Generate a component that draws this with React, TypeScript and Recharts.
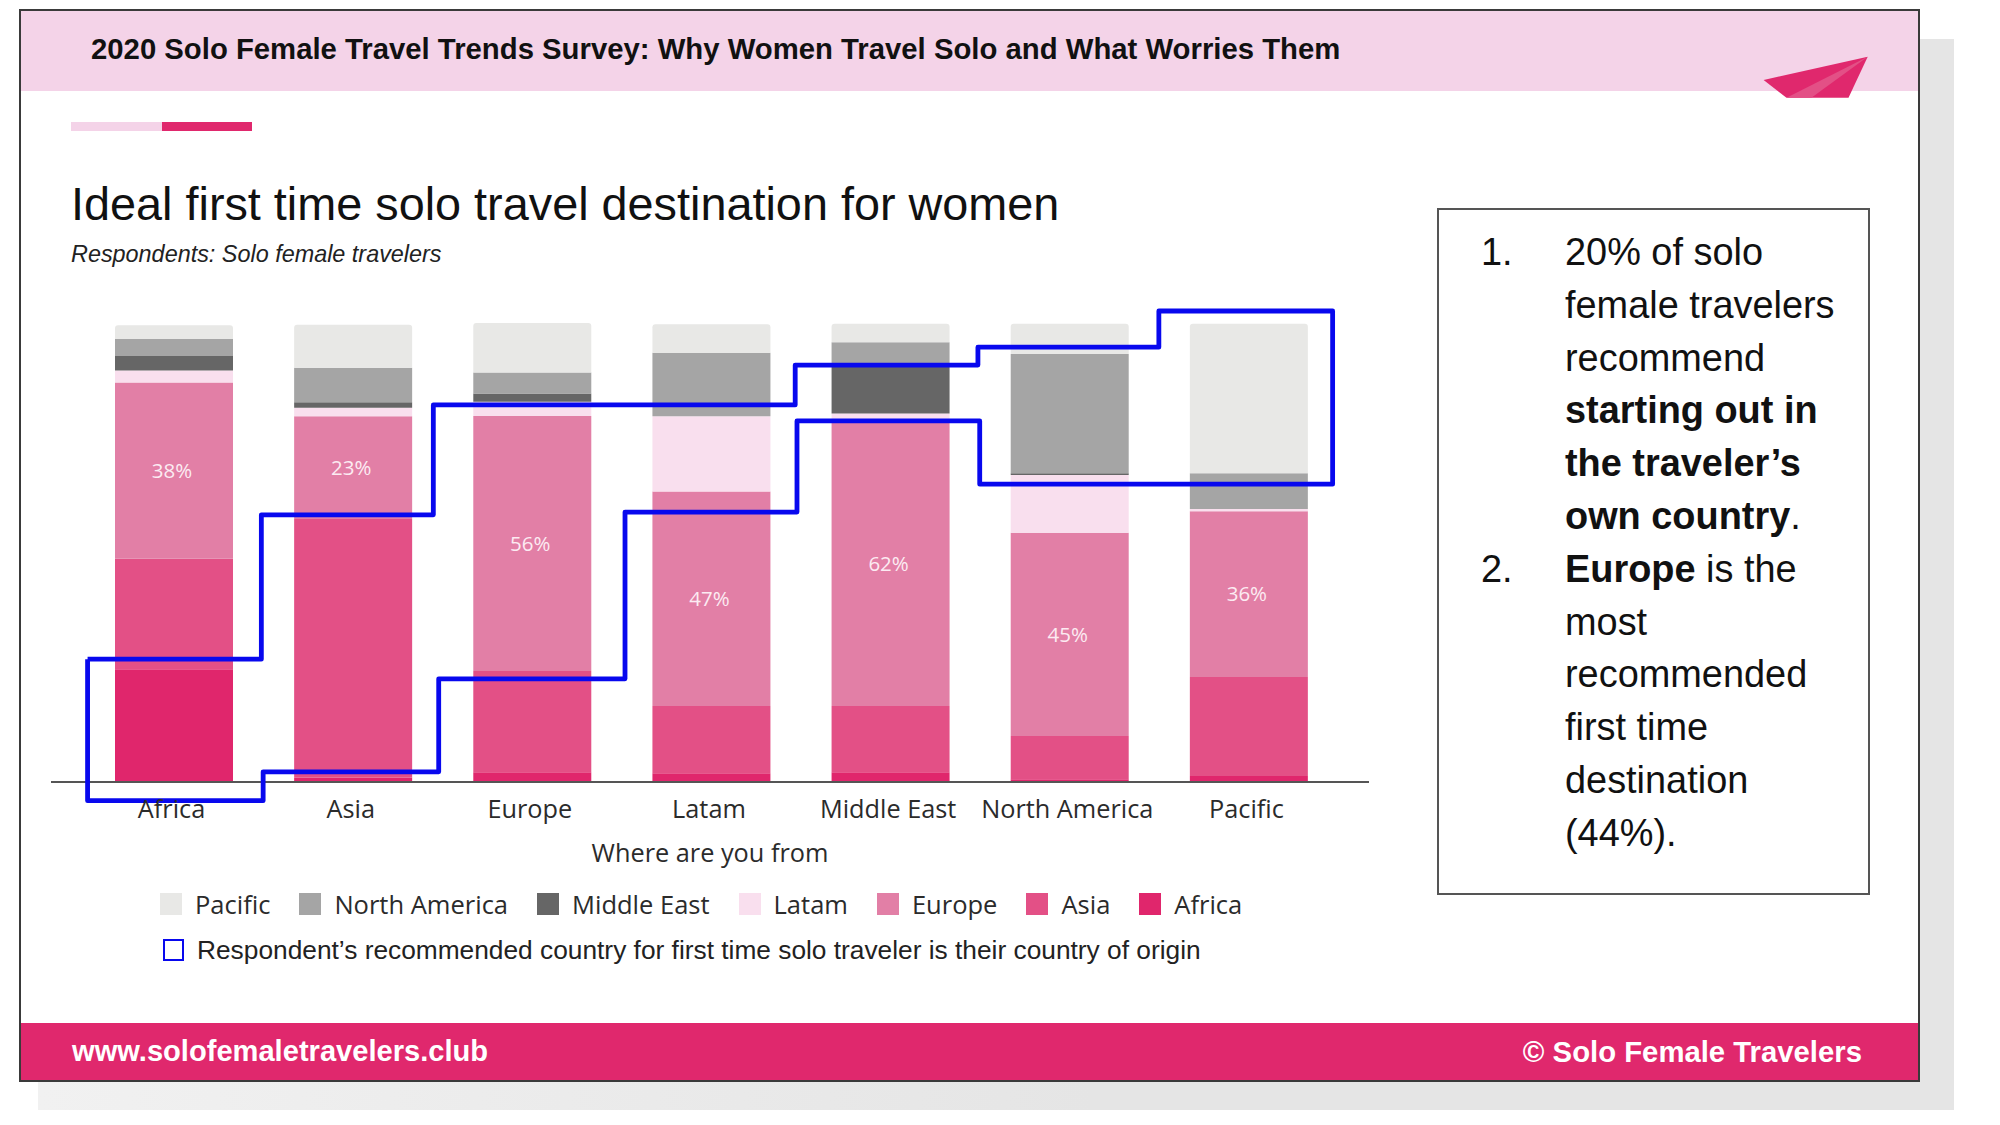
import {
  ComposedChart,
  Bar,
  Scatter,
  XAxis,
  YAxis,
  LabelList,
  Legend,
  ReferenceLine,
} from "recharts";

const regions = ["Africa", "Asia", "Europe", "Latam", "Middle East", "North America", "Pacific"];
const africa = [24.6, 0.9, 2.1, 1.9, 2.1, 0.6, 1.3];
const asia = [24.1, 56.5, 22.1, 14.7, 14.5, 9.4, 21.6];
const europe = [38.5, 22.4, 55.7, 46.8, 62.1, 44.4, 36.2];
const latam = [2.6, 1.9, 3.1, 16.4, 1.7, 12.6, 0.5];
const middleEast = [3.2, 1.2, 1.8, 0, 10.4, 0.4, 0];
const northAmerica = [3.7, 7.5, 4.6, 13.9, 5.2, 26, 7.8];
const pacific = [3.0, 9.4, 10.8, 6.2, 4.0, 6.6, 32.6];
const europeLabels = [38, 23, 56, 47, 62, 45, 36];

// outline round the "own country" cells: x in category bands, y in percent
const outlineX = [0.02, 0.02, 1, 1, 1.98, 1.98, 3.02, 3.02, 3.98, 3.98, 5, 5, 6.97, 6.97, 6, 6, 4.99, 4.99, 3.97, 3.97, 1.95, 1.95, 0.99, 0.99, 0.02];
const outlineY = [26.8, -4.1, -4.1, 2.2, 2.2, 22.5, 22.5, 58.9, 58.9, 78.8, 78.8, 65, 65, 102.8, 102.8, 94.9, 94.9, 91, 91, 82.3, 82.3, 58.3, 58.3, 26.8, 26.8];

const COLORS = {
  Africa: "#E0266C",
  Asia: "#E35086",
  Europe: "#E27FA6",
  Latam: "#F9DFEE",
  "Middle East": "#666666",
  "North America": "#A5A5A5",
  Pacific: "#E8E8E6",
};
const legendOrder = ["Pacific", "North America", "Middle East", "Latam", "Europe", "Asia", "Africa"];
const BLUE = "#0808EE";
const SANS = "'Liberation Sans', Arial, sans-serif";
const LABEL_FONT = "'Open Sans', sans-serif";

const chartData = regions.map((region, i) => ({
  region,
  Africa: africa[i],
  Asia: asia[i],
  Europe: europe[i],
  Latam: latam[i],
  "Middle East": middleEast[i],
  "North America": northAmerica[i],
  Pacific: pacific[i],
  europeLabel: europeLabels[i],
}));
const outlineData = outlineX.map((x, i) => ({ x, y: outlineY[i] }));

const takeaways = [
  { n: "1.", parts: [["20% of solo", false]] },
  { parts: [["female travelers", false]] },
  { parts: [["recommend", false]] },
  { parts: [["starting out in", true]] },
  { parts: [["the traveler’s", true]] },
  { parts: [["own country", true], [".", false]] },
  { n: "2.", parts: [["Europe", true], [" is the", false]] },
  { parts: [["most", false]] },
  { parts: [["recommended", false]] },
  { parts: [["first time", false]] },
  { parts: [["destination", false]] },
  { parts: [["(44%).", false]] },
];

function ChartLegend() {
  return (
    <div style={{ textAlign: "left" }}>
      <div style={{ display: "flex", alignItems: "center", height: 40, fontFamily: LABEL_FONT, fontSize: 25.5, color: "#2b2b2b" }}>
        {legendOrder.map((name) => (
          <div key={name} style={{ display: "flex", alignItems: "center", marginRight: 29 }}>
            <span style={{ width: 22, height: 22, background: COLORS[name], marginRight: 13 }} />
            <span>{name}</span>
          </div>
        ))}
      </div>
      <div style={{ display: "flex", alignItems: "center", height: 40, marginTop: 6, fontFamily: SANS, fontSize: 26.3, color: "#222" }}>
        <span style={{ width: 17, height: 18, border: `2.5px solid ${BLUE}`, marginLeft: 3, marginRight: 13 }} />
        <span>Respondent’s recommended country for first time solo traveler is their country of origin</span>
      </div>
    </div>
  );
}

function abs(left: number, top: number, width: number, height: number, extra = {}) {
  return { position: "absolute" as const, left, top, width, height, ...extra };
}

export default function App() {
  return (
    <div style={abs(0, 0, 2000, 1125, { background: "#fff", overflow: "hidden", fontFamily: SANS })}>
      {/* slide shadow and frame */}
      <div style={abs(38, 39, 1916, 1071, { background: "linear-gradient(90deg, #F1F1F1 0%, #E5E5E5 55%)" })} />
      <div style={abs(19, 9, 1901, 1073, { background: "#fff", border: "2.5px solid #3a3a3a", boxSizing: "border-box" })} />
      <div style={abs(21, 11, 1897, 80, { background: "#F4D3E8" })} />
      <div style={abs(21, 1023, 1897, 57, { background: "#E0286D" })} />

      <div style={abs(91, 27, 1400, 44, { fontSize: 29.3, fontWeight: 700, lineHeight: "44px", color: "#111", whiteSpace: "nowrap" })}>
        2020 Solo Female Travel Trends Survey: Why Women Travel Solo and What Worries Them
      </div>
      <svg style={abs(1750, 50, 130, 55)} viewBox="1750 50 130 55">
        <polygon points="1763.6,80 1867.7,56.7 1848.5,97.7 1786.5,97.7" fill="#E0286D" />
        <polygon points="1867.7,56.7 1786.5,97.7 1811.4,97.7" fill="#E35086" />
      </svg>
      <div style={abs(71, 122, 91, 9, { background: "#F4D3E8" })} />
      <div style={abs(162, 122, 90, 9, { background: "#E0286D" })} />

      <div style={abs(71, 175, 1100, 58, { fontSize: 46.8, lineHeight: "58px", color: "#111", whiteSpace: "nowrap" })}>
        Ideal first time solo travel destination for women
      </div>
      <div style={abs(71, 239, 600, 30, { fontSize: 23.4, fontStyle: "italic", lineHeight: "30px", color: "#222", whiteSpace: "nowrap" })}>
        Respondents: Solo female travelers
      </div>

      <div style={abs(1437, 208, 433, 687, { border: "2.5px solid #555", boxSizing: "border-box" })} />
      {takeaways.map((line, i) => (
        <div key={i} style={abs(0, 226 + i * 52.8, 1900, 53, { fontSize: 37.9, lineHeight: "53px", color: "#111", whiteSpace: "nowrap" })}>
          {line.n && <span style={{ position: "absolute", left: 1481 }}>{line.n}</span>}
          <span style={{ position: "absolute", left: 1565 }}>
            {line.parts.map(([t, bold], j) => (
              <span key={j} style={{ fontWeight: bold ? 700 : 400 }}>{t as string}</span>
            ))}
          </span>
        </div>
      ))}

      <div style={abs(72, 1031, 600, 40, { fontSize: 29.1, fontWeight: 700, lineHeight: "40px", color: "#fff", whiteSpace: "nowrap" })}>
        www.solofemaletravelers.club
      </div>
      <div style={abs(1362, 1032, 500, 40, { fontSize: 29.3, fontWeight: 700, lineHeight: "40px", color: "#fff", textAlign: "right", whiteSpace: "nowrap" })}>
        © Solo Female Travelers
      </div>

      <div style={abs(0, 0, 2000, 1125)}>
        <ComposedChart
          width={2000}
          height={1125}
          data={chartData}
          margin={{ top: 311, right: 631, left: 51, bottom: 243 }}
        >
          <XAxis
            dataKey="region"
            height={81.3}
            interval={0}
            padding={{ left: 33, right: 31 }}
            tickLine={false}
            tickMargin={-7}
            axisLine={false}
            tick={{ fontFamily: LABEL_FONT, fontSize: 25.3, fill: "#2b2b2b", dx: -2 }}
            label={{
              value: "Where are you from",
              position: "insideBottom",
              offset: 20,
              style: { fontFamily: LABEL_FONT, fontSize: 25.3, fill: "#2b2b2b" },
            }}
          />
          <XAxis
            xAxisId="outline"
            dataKey="x"
            type="number"
            domain={[0, 7]}
            padding={{ left: 33, right: 31 }}
            hide
          />
          <YAxis domain={[-4.1, 102.8]} hide />
          <Bar dataKey="Africa" stackId="a" barSize={118} fill={COLORS.Africa} isAnimationActive={false} />
          <Bar dataKey="Asia" stackId="a" barSize={118} fill={COLORS.Asia} isAnimationActive={false} />
          <Bar dataKey="Europe" stackId="a" barSize={118} fill={COLORS.Europe} isAnimationActive={false}>
            <LabelList
              dataKey="europeLabel"
              position="center"
              dx={-2}
              formatter={(v: number) => `${v}%`}
              style={{ fontFamily: LABEL_FONT, fontSize: 20.5, fill: "#FCEBF2" }}
            />
          </Bar>
          <Bar dataKey="Latam" stackId="a" barSize={118} fill={COLORS.Latam} isAnimationActive={false} />
          <Bar dataKey="Middle East" stackId="a" barSize={118} fill={COLORS["Middle East"]} isAnimationActive={false} />
          <Bar dataKey="North America" stackId="a" barSize={118} fill={COLORS["North America"]} isAnimationActive={false} />
          <Bar dataKey="Pacific" stackId="a" barSize={118} fill={COLORS.Pacific} radius={[3, 3, 0, 0]} isAnimationActive={false} />
          <ReferenceLine y={0} stroke="#555" strokeWidth={2} />
          <Scatter
            data={outlineData}
            dataKey="y"
            xAxisId="outline"
            line={{ stroke: BLUE, strokeWidth: 4.8, strokeLinejoin: "round" }}
            lineType="joint"
            shape={() => null}
            isAnimationActive={false}
            legendType="none"
          />
          <Legend
            layout="horizontal"
            verticalAlign="middle"
            content={<ChartLegend />}
            wrapperStyle={{ left: 160, top: 884, width: 1200 }}
          />
        </ComposedChart>
      </div>
    </div>
  );
}
